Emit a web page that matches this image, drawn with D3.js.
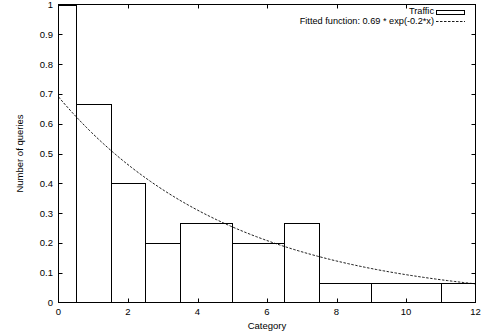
<!DOCTYPE html>
<html>
<head>
<meta charset="utf-8">
<script src="https://cdn.jsdelivr.net/npm/d3@7"></script>
<style>
  html, body { margin: 0; padding: 0; background: #fff; }
  svg { display: block; }
  text { font-family: "Liberation Sans", Arial, Helvetica, sans-serif; font-size: 9.5px; fill: #000; }
  text.leg { font-size: 9.2px; }
</style>
</head>
<body>
<svg id="chart" width="487" height="336"></svg>
<script>
// Data (gnuplot "boxes": each box spans halfway to neighbouring x values)
const categories = [0, 1, 2, 3, 4, 6, 7, 8, 10, 12];
const trafficValues = [1.0, 0.667, 0.4, 0.2, 0.267, 0.2, 0.267, 0.067, 0.067, 0.067];
const xTicks = [0, 2, 4, 6, 8, 10, 12];
const yTicks = [0, 0.1, 0.2, 0.3, 0.4, 0.5, 0.6, 0.7, 0.8, 0.9, 1];
const fitA = 0.69;
const fitB = -0.2;
const seriesLabels = ["Traffic", "Fitted function: 0.69 * exp(-0.2*x)"];

const svg = d3.select("#chart");
const L = 58.5, R = 475.5, T = 4.5, B = 302.5;

const x = d3.scaleLinear().domain([0, 12]).range([L, R]);
const y = d3.scaleLinear().domain([0, 1]).range([B, T]);

svg.append("defs").append("clipPath").attr("id", "clip")
  .append("rect").attr("x", L).attr("y", T).attr("width", R - L).attr("height", B - T);

// box boundaries
const boxes = categories.map((c, i) => {
  const prev = i > 0 ? categories[i - 1] : null;
  const next = i < categories.length - 1 ? categories[i + 1] : null;
  const hl = prev !== null ? (c - prev) / 2 : (next - c) / 2;
  const hr = next !== null ? (next - c) / 2 : (c - prev) / 2;
  return { x0: c - hl, x1: c + hr, v: trafficValues[i] };
});

const g = svg.append("g").attr("clip-path", "url(#clip)");
g.selectAll("rect.box").data(boxes).enter().append("rect")
  .attr("class", "box")
  .attr("x", d => Math.round(x(d.x0)) + 0.5)
  .attr("width", d => Math.round(x(d.x1)) - Math.round(x(d.x0)))
  .attr("y", d => Math.round(y(d.v)) + 0.5)
  .attr("height", d => Math.round(y(0)) - Math.round(y(d.v)))
  .attr("fill", "none").attr("stroke", "#000").attr("stroke-width", 1);

// fitted function
const xs = d3.range(0, 12.001, 0.05);
const line = d3.line().x(d => x(d)).y(d => y(fitA * Math.exp(fitB * d)));
g.append("path").datum(xs).attr("d", line)
  .attr("fill", "none").attr("stroke", "#000").attr("stroke-width", 0.9)
  .attr("stroke-dasharray", "2.5,1.5");

// ticks (inward, mirrored)
const tl = 4;
const axisG = svg.append("g").attr("stroke", "#000").attr("stroke-width", 1);
xTicks.forEach(t => {
  const px = Math.round(x(t)) + 0.5;
  if (t > 0 && t < 12) {
    axisG.append("line").attr("x1", px).attr("x2", px).attr("y1", B).attr("y2", B - tl);
    axisG.append("line").attr("x1", px).attr("x2", px).attr("y1", T).attr("y2", T + tl);
  }
});
yTicks.forEach(t => {
  const py = Math.round(y(t)) + 0.5;
  if (t > 0 && t < 1) {
    axisG.append("line").attr("x1", L).attr("x2", L + tl).attr("y1", py).attr("y2", py);
    axisG.append("line").attr("x1", R).attr("x2", R - tl).attr("y1", py).attr("y2", py);
  }
});

// border
svg.append("rect").attr("x", L).attr("y", T).attr("width", R - L).attr("height", B - T)
  .attr("fill", "none").attr("stroke", "#000").attr("stroke-width", 1);

// tick labels
svg.selectAll("text.xt").data(xTicks).enter().append("text")
  .attr("x", d => x(d)).attr("y", 315).attr("text-anchor", "middle").text(d => d);
svg.selectAll("text.yt").data(yTicks).enter().append("text")
  .attr("x", 53).attr("y", d => y(d) + 3.4).attr("text-anchor", "end").text(d => d);

// axis titles
svg.append("text").attr("x", (L + R) / 2).attr("y", 329).attr("text-anchor", "middle").text("Category");
svg.append("text").attr("transform", `translate(22.5,${(T + B) / 2}) rotate(-90)`)
  .attr("text-anchor", "middle").text("Number of queries");

// legend
svg.append("text").attr("class", "leg").attr("x", 434).attr("y", 13.8).attr("text-anchor", "end").text(seriesLabels[0]);
svg.append("rect").attr("x", 436.5).attr("y", 10.5).attr("width", 28).attr("height", 4)
  .attr("fill", "none").attr("stroke", "#000").attr("stroke-width", 1);
svg.append("text").attr("class", "leg").attr("x", 434).attr("y", 24.4).attr("text-anchor", "end").text(seriesLabels[1]);
svg.append("line").attr("x1", 436).attr("x2", 465).attr("y1", 21.5).attr("y2", 21.5)
  .attr("stroke", "#000").attr("stroke-width", 0.9).attr("stroke-dasharray", "2.5,1.5");
</script>
</body>
</html>
